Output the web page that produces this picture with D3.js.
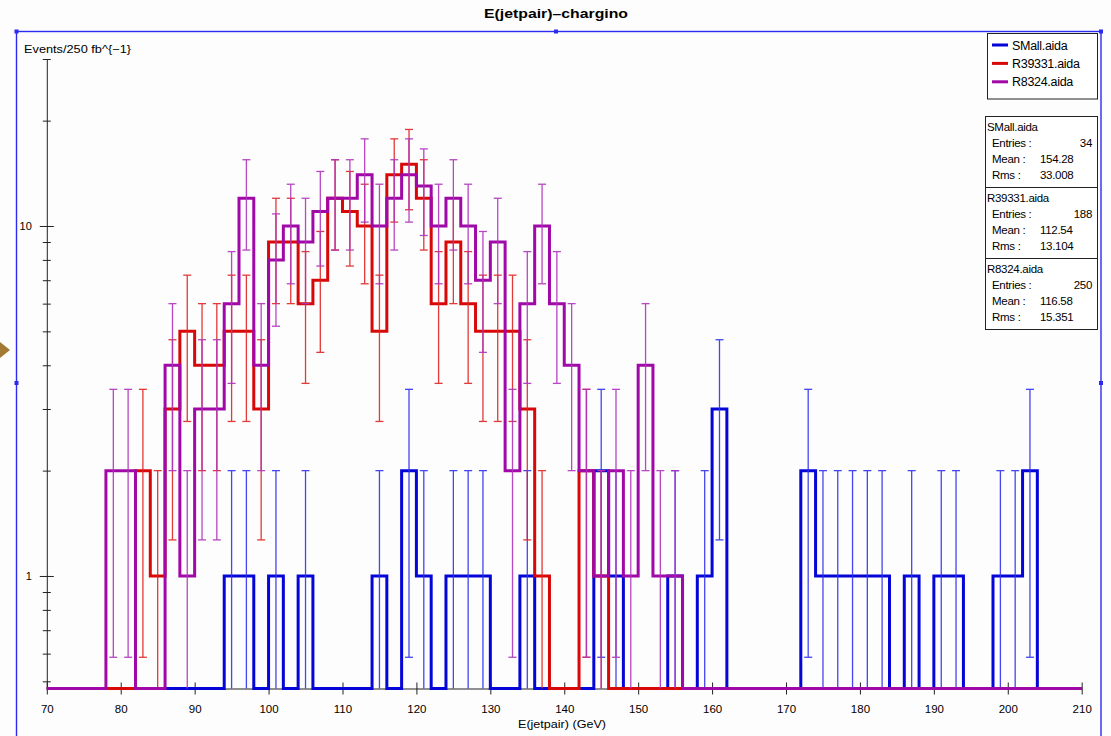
<!DOCTYPE html>
<html>
<head>
<meta charset="utf-8">
<script src="https://cdn.jsdelivr.net/npm/d3@7"></script>
<style>
  html, body { margin: 0; padding: 0; background: #fdfdfd; }
  svg { display: block; }
  text { font-family: "Liberation Sans", Arial, Helvetica, sans-serif; fill: #000; }
</style>
</head>
<body>
<svg id="chart" width="1111" height="736"></svg>
<script>
// Bin layout: 2 GeV bins from 70 to 210 GeV (lower edge of every bin)
const binLow = [
   70, 72, 74, 76, 78, 80, 82, 84, 86, 88,
   90, 92, 94, 96, 98,100,102,104,106,108,
  110,112,114,116,118,120,122,124,126,128,
  130,132,134,136,138,140,142,144,146,148,
  150,152,154,156,158,160,162,164,166,168,
  170,172,174,176,178,180,182,184,186,188,
  190,192,194,196,198,200,202,204,206,208
];
const binWidth = 2;

// Counts per bin
const smallCounts = [
  0,0,0,0,0,0,0,0,0,0,
  0,0,1,1,0,1,0,1,0,0,
  0,0,1,0,2,1,0,1,1,1,
  0,0,1,0,0,0,0,2,1,0,
  0,0,1,0,1,3,0,0,0,0,
  0,2,1,1,1,1,1,0,1,0,
  1,1,0,0,1,1,2,0,0,0
];
const r39331Counts = [
  0,0,0,0,0,0,2,1,3,5,
  4,4,5,5,3,9,9,6,7,12,
  11,10,5,14,15,12,6,9,6,5,
  5,5,3,1,0,0,2,1,0,0,
  0,0,0,0,0,0,0,0,0,0,
  0,0,0,0,0,0,0,0,0,0,
  0,0,0,0,0,0,0,0,0,0
];
const r8324Counts = [
  0,0,0,0,2,2,0,0,4,1,
  3,3,6,12,4,8,10,9,11,12,
  12,14,10,12,14,13,10,12,10,7,
  9,2,6,10,6,4,2,1,2,1,
  4,1,1,0,0,0,0,0,0,0,
  0,0,0,0,0,0,0,0,0,0,
  0,0,0,0,0,0,0,0,0,0
];

const seriesNames = ["SMall.aida", "R39331.aida", "R8324.aida"];
const seriesCounts = [smallCounts, r39331Counts, r8324Counts];
const lineColors = ["#0505d8", "#d80808", "#a008a8"];
const errColors  = ["#3232f0", "#e02424", "#b034bc"];

// Statistics boxes
const statEntries = ["34", "188", "250"];
const statMeans   = ["154.28", "112.54", "116.58"];
const statRms     = ["33.008", "13.104", "15.351"];

const xTicks = [70, 80, 90, 100, 110, 120, 130, 140, 150, 160, 170, 180, 190, 200, 210];
const yMajor = [1, 10];
const yMinor = [0.5, 0.6, 0.7, 0.8, 0.9, 2, 3, 4, 5, 6, 7, 8, 9, 20, 30];

const titleText = "E(jetpair)\u2013chargino";
const xTitle = "E(jetpair) (GeV)";
const yTitle = "Events/250 fb^{\u22121}";

// ---------------------------------------------------------------------------
const svg = d3.select("#chart");

const x = d3.scaleLinear().domain([70, 210]).range([46.8, 1081.7]);
const y = d3.scaleLog().domain([0.477, 30]).range([688.5, 59]);
const yBottom = y.range()[0];
const yv = v => (v > 0 ? y(v) : yBottom);

// Outer frame of the plot region
svg.append("rect")
  .attr("x", 16.5).attr("y", 31.5).attr("width", 1084.5).attr("height", 720)
  .attr("fill", "none").attr("stroke", "#2a2af0").attr("stroke-width", 1.4);
[[16.5, 31.5], [556, 31.5], [1101, 31.5], [1101, 383], [16.5, 383]].forEach(([hx, hy]) => {
  svg.append("rect").attr("x", hx - 2).attr("y", hy - 2).attr("width", 4).attr("height", 4)
    .attr("fill", "#2a2af0");
});
// selection marker at the left edge
svg.append("path").attr("d", "M0,342 L10,350 L0,358 Z").attr("fill", "#a27a34");

// Title
svg.append("text").attr("x", 556).attr("y", 18).attr("text-anchor", "middle")
  .attr("font-size", 13).attr("font-weight", "bold")
  .attr("textLength", 144).attr("lengthAdjust", "spacingAndGlyphs").text(titleText);

// Y axis title
svg.append("text").attr("x", 24).attr("y", 53).attr("font-size", 11)
  .attr("textLength", 107).attr("lengthAdjust", "spacingAndGlyphs").text(yTitle);

// X axis title
svg.append("text").attr("x", 562).attr("y", 728).attr("text-anchor", "middle")
  .attr("font-size", 11.5).attr("textLength", 88).attr("lengthAdjust", "spacingAndGlyphs").text(xTitle);

// X axis
const xAxis = svg.append("g").attr("transform", `translate(0,${yBottom})`)
  .call(d3.axisBottom(x).tickValues(xTicks).tickSize(6).tickSizeOuter(0).tickPadding(10));
xAxis.select(".domain").attr("stroke", "#222");
xAxis.selectAll(".tick line").attr("y1", -6).attr("y2", 6).attr("stroke", "#222");
xAxis.selectAll(".tick text").attr("font-size", 11.5).attr("font-family", "Liberation Sans, Arial, sans-serif");

// Y axis (log)
const yAxis = svg.append("g").attr("transform", `translate(${x(70)},0)`)
  .call(d3.axisLeft(y).tickValues(yMajor.concat(yMinor)).tickSizeOuter(0).tickPadding(9)
    .tickFormat(d => (yMajor.includes(d) ? String(d) : "")));
yAxis.select(".domain").attr("stroke", "#222");
yAxis.selectAll(".tick line")
  .attr("x1", d => (yMajor.includes(d) ? -7 : -4))
  .attr("x2", d => (yMajor.includes(d) ? 7 : 4))
  .attr("stroke", "#222");
yAxis.selectAll(".tick text").attr("font-size", 11).attr("font-family", "Liberation Sans, Arial, sans-serif");

// Histograms with sqrt(N) error bars
const step = d3.line().x(d => x(d[0])).y(d => yv(d[1])).curve(d3.curveStepAfter);

seriesCounts.forEach((counts, s) => {
  const g = svg.append("g");
  const pts = binLow.map((lo, i) => [lo, counts[i]]);
  pts.push([binLow[binLow.length - 1] + binWidth, counts[counts.length - 1]]);
  g.append("path").attr("d", step(pts)).attr("fill", "none")
    .attr("stroke", lineColors[s]).attr("stroke-width", 3).attr("stroke-linejoin", "miter");

  const eb = g.append("g").attr("stroke", errColors[s]).attr("stroke-width", 1.3).attr("opacity", 0.9);
  binLow.forEach((lo, i) => {
    const n = counts[i];
    if (n <= 0) return;
    const cx = x(lo + binWidth / 2);
    const hi = n + Math.sqrt(n);
    const lowV = n - Math.sqrt(n);
    const yTop = y(hi);
    const yLow = yv(lowV > 1e-9 ? lowV : 0);
    eb.append("line").attr("x1", cx).attr("x2", cx).attr("y1", yTop).attr("y2", yLow);
    eb.append("line").attr("x1", cx - 4).attr("x2", cx + 4).attr("y1", yTop).attr("y2", yTop);
    if (lowV > 1e-9) {
      eb.append("line").attr("x1", cx - 4).attr("x2", cx + 4).attr("y1", yLow).attr("y2", yLow);
    }
  });
});

// Legend
const legend = svg.append("g");
legend.append("rect").attr("x", 987.5).attr("y", 33.5).attr("width", 110).attr("height", 65.5)
  .attr("fill", "#fff").attr("stroke", "#222").attr("stroke-width", 1);
seriesNames.forEach((name, i) => {
  const ly = 45 + i * 18.4;
  legend.append("line").attr("x1", 992).attr("x2", 1008).attr("y1", ly).attr("y2", ly)
    .attr("stroke", lineColors[i]).attr("stroke-width", 3);
  legend.append("text").attr("x", 1012).attr("y", ly + 4.5).attr("font-size", 12.5)
    .attr("letter-spacing", -0.3).text(name);
});

// Statistics boxes
const boxTop = 116.5, boxH = 71;
seriesNames.forEach((name, i) => {
  const top = boxTop + i * boxH;
  const g = svg.append("g");
  g.append("rect").attr("x", 985.5).attr("y", top).attr("width", 112).attr("height", boxH)
    .attr("fill", "#fff").attr("stroke", "#222").attr("stroke-width", 1);
  g.append("text").attr("x", 987).attr("y", top + 14.5).attr("font-size", 11.5)
    .attr("letter-spacing", -0.3).text(name);
  const rows = [["Entries :", statEntries[i], "end"], ["Mean :", statMeans[i], "start"], ["Rms :", statRms[i], "start"]];
  rows.forEach((r, k) => {
    const ty = top + 30.5 + k * 16;
    g.append("text").attr("x", 992).attr("y", ty).attr("font-size", 11.5)
      .attr("letter-spacing", -0.3).text(r[0]);
    g.append("text").attr("x", r[2] === "end" ? 1092 : 1040).attr("y", ty)
      .attr("text-anchor", r[2]).attr("font-size", 11.5).attr("letter-spacing", -0.3).text(r[1]);
  });
});
</script>
</body>
</html>
